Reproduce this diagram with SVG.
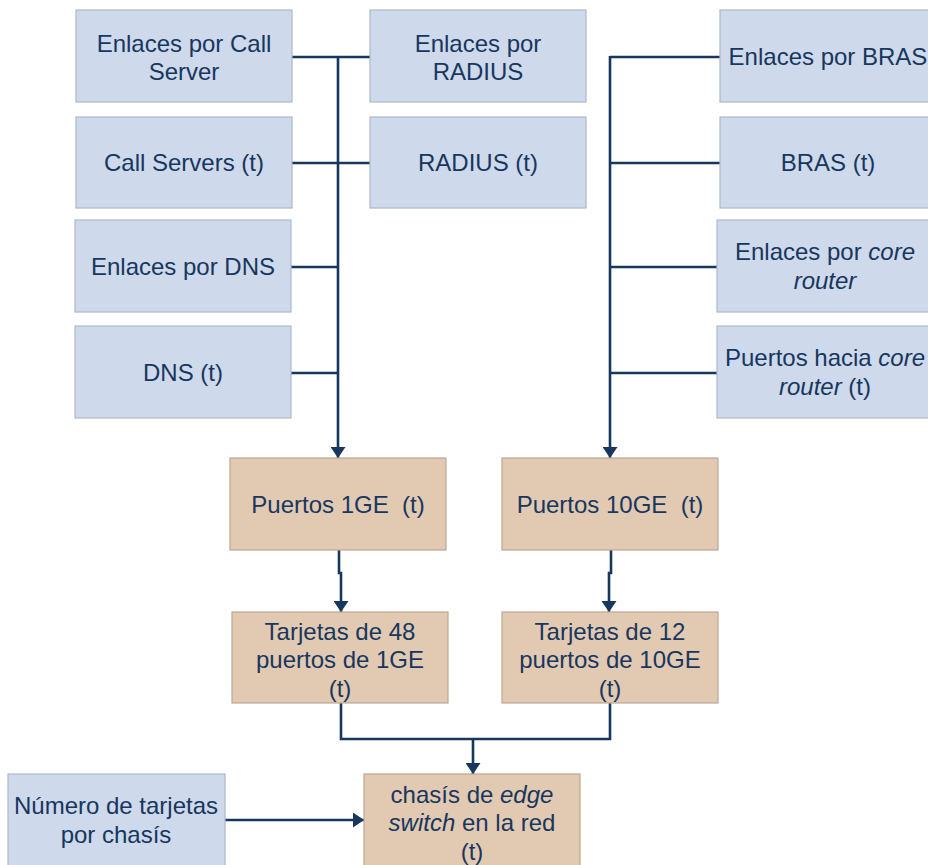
<svg xmlns="http://www.w3.org/2000/svg" width="928" height="865" viewBox="0 0 928 865">
<style>
.blue{fill:#CED9EB;stroke:#AEB8C6;stroke-width:1.2}
.tan{fill:#E2C9B2;stroke:#BBA894;stroke-width:1.2}
text{font-family:"Liberation Sans",Arial,sans-serif;font-size:24px;fill:#17375E;text-anchor:middle}
.i{font-style:italic}
.c{fill:none;stroke:#17375E;stroke-width:2.6}
</style>
<defs>
<marker id="ah" markerUnits="userSpaceOnUse" viewBox="0 0 11 15" refX="11" refY="7.5" markerWidth="11" markerHeight="15" orient="auto">
<path d="M0,0 L11,7.5 L0,15 z" fill="#17375E"/>
</marker>
</defs>
<g id="connectors">
<path class="c" d="M292 57 H370 M292 163 H370 M291 267 H338 M291 373 H338"/>
<path class="c" d="M338 56 V458" marker-end="url(#ah)"/>
<path class="c" d="M720 57 H610 M720 163 H610 M717 267 H610 M717 373 H610"/>
<path class="c" d="M610 56 V458" marker-end="url(#ah)"/>
<path class="c" d="M339 550 V573 H341 V612" marker-end="url(#ah)"/>
<path class="c" d="M611 550 V573 H609 V612" marker-end="url(#ah)"/>
<path class="c" d="M341 703 V739 H610 V703"/>
<path class="c" d="M473 739 V774" marker-end="url(#ah)"/>
<path class="c" d="M225 820 H364" marker-end="url(#ah)"/>
</g>
<g id="n-enlaces-call"><rect class="blue" x="76" y="10" width="216" height="92"/><text x="184" y="52">Enlaces por Call</text><text x="184" y="80">Server</text></g>
<g id="n-call-servers"><rect class="blue" x="76" y="117" width="216" height="91"/><text x="184" y="171">Call Servers (t)</text></g>
<g id="n-enlaces-dns"><rect class="blue" x="75" y="220" width="216" height="92"/><text x="183" y="275">Enlaces por DNS</text></g>
<g id="n-dns"><rect class="blue" x="75" y="326" width="216" height="92"/><text x="183" y="381">DNS (t)</text></g>
<g id="n-enlaces-radius"><rect class="blue" x="370" y="10" width="216" height="92"/><text x="478" y="52">Enlaces por</text><text x="478" y="80">RADIUS</text></g>
<g id="n-radius"><rect class="blue" x="370" y="117" width="216" height="91"/><text x="478" y="171">RADIUS (t)</text></g>
<g id="n-enlaces-bras"><rect class="blue" x="720" y="10" width="216" height="92"/><text x="828" y="65">Enlaces por BRAS</text></g>
<g id="n-bras"><rect class="blue" x="720" y="117" width="216" height="91"/><text x="828" y="171">BRAS (t)</text></g>
<g id="n-enlaces-core"><rect class="blue" x="717" y="220" width="216" height="92"/><text x="825" y="260">Enlaces por <tspan class="i">core</tspan></text><text x="825" y="289" class="i">router</text></g>
<g id="n-puertos-core"><rect class="blue" x="717" y="326" width="216" height="92"/><text x="825" y="366">Puertos hacia <tspan class="i">core</tspan></text><text x="825" y="395"><tspan class="i">router</tspan> (t)</text></g>
<g id="n-puertos-1ge"><rect class="tan" x="230" y="458" width="216" height="92"/><text x="338" y="513" xml:space="preserve">Puertos 1GE  (t)</text></g>
<g id="n-puertos-10ge"><rect class="tan" x="502" y="458" width="216" height="92"/><text x="610" y="513" xml:space="preserve">Puertos 10GE  (t)</text></g>
<g id="n-tarjetas-48"><rect class="tan" x="232" y="612" width="216" height="91"/><text x="340" y="640">Tarjetas de 48</text><text x="340" y="668">puertos de 1GE</text><text x="340" y="697">(t)</text></g>
<g id="n-tarjetas-12"><rect class="tan" x="502" y="612" width="216" height="91"/><text x="610" y="640">Tarjetas de 12</text><text x="610" y="668">puertos de 10GE</text><text x="610" y="697">(t)</text></g>
<g id="n-numero"><rect class="blue" x="8" y="774" width="217" height="95"/><text x="116" y="814">Número de tarjetas</text><text x="116" y="843">por chasís</text></g>
<g id="n-chasis"><rect class="tan" x="364" y="774" width="216" height="95"/><text x="472" y="803">chasís de <tspan class="i">edge</tspan></text><text x="472" y="831"><tspan class="i">switch</tspan> en la red</text><text x="472" y="860">(t)</text></g>
</svg>
